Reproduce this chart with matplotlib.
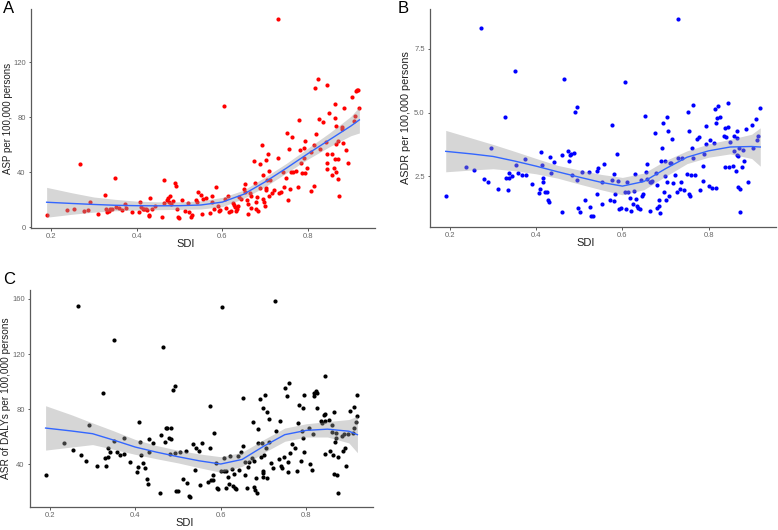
import matplotlib
matplotlib.use("Agg")
import matplotlib.pyplot as plt

plt.rcParams['font.family'] = ['Liberation Sans', 'DejaVu Sans']

# ---- panel A : ASP ----
sdi_a = [0.192, 0.237, 0.255, 0.269, 0.277, 0.286, 0.292, 0.311, 0.326, 0.329, 0.332, 0.335, 0.338,
         0.343, 0.350, 0.351, 0.358, 0.366, 0.373, 0.375, 0.390, 0.406, 0.408, 0.411, 0.414, 0.418,
         0.422, 0.425, 0.428, 0.429, 0.432, 0.435, 0.443, 0.459, 0.464, 0.465, 0.470, 0.473, 0.476,
         0.479, 0.481, 0.485, 0.489, 0.493, 0.495, 0.496, 0.500, 0.506, 0.513, 0.520, 0.523, 0.526,
         0.530, 0.538, 0.540, 0.543, 0.550, 0.552, 0.556, 0.562, 0.571, 0.575, 0.577, 0.580, 0.585,
         0.589, 0.593, 0.595, 0.605, 0.607, 0.609, 0.613, 0.616, 0.620, 0.624, 0.627, 0.629, 0.632,
         0.634, 0.637, 0.640, 0.644, 0.651, 0.652, 0.654, 0.657, 0.659, 0.661, 0.664, 0.667, 0.668,
         0.675, 0.676, 0.678, 0.679, 0.681, 0.684, 0.687, 0.689, 0.692, 0.694, 0.695, 0.697, 0.699,
         0.701, 0.702, 0.703, 0.705, 0.706, 0.709, 0.710, 0.712, 0.715, 0.720, 0.729, 0.729, 0.733,
         0.738, 0.741, 0.743, 0.749, 0.752, 0.753, 0.756, 0.758, 0.760, 0.762, 0.764, 0.771, 0.776,
         0.779, 0.782, 0.784, 0.786, 0.790, 0.791, 0.792, 0.794, 0.798, 0.806, 0.807, 0.813, 0.815,
         0.816, 0.818, 0.824, 0.826, 0.829, 0.836, 0.843, 0.844, 0.844, 0.845, 0.845, 0.850, 0.855,
         0.857, 0.860, 0.863, 0.864, 0.864, 0.865, 0.866, 0.866, 0.869, 0.870, 0.870, 0.872, 0.880,
         0.880, 0.882, 0.884, 0.888, 0.893, 0.902, 0.907, 0.910, 0.911, 0.914, 0.916, 0.918]
asp = [9.0, 12.6, 13.6, 46.1, 11.9, 12.4, 18.4, 9.7, 23.8, 13.1, 11.2, 12.1, 13.1,
       13.6, 35.6, 14.5, 14.1, 12.6, 17.2, 13.8, 11.4, 10.9, 18.2, 15.0, 13.1, 13.3,
       13.6, 12.4, 9.0, 8.2, 21.3, 13.6, 15.3, 7.8, 34.2, 17.7, 19.6, 21.1, 18.4,
       23.0, 17.2, 19.2, 32.2, 30.3, 13.1, 7.3, 6.8, 19.6, 11.6, 17.9, 10.9, 7.3,
       9.0, 19.6, 18.7, 25.9, 23.5, 9.5, 20.4, 21.6, 10.2, 22.5, 18.7, 13.6, 29.6,
       15.5, 11.9, 12.6, 87.8, 20.8, 13.8, 22.8, 11.2, 11.6, 17.9, 16.5, 14.5, 12.1,
       13.6, 15.8, 22.3, 20.4, 27.9, 25.9, 31.5, 19.9, 17.0, 9.7, 24.7, 22.8, 13.8,
       47.8, 32.0, 18.7, 13.3, 22.3, 12.1, 45.8, 28.4, 59.6, 38.3, 20.4, 18.4, 15.8,
       27.2, 49.0, 28.4, 34.4, 53.3, 22.8, 40.7, 34.4, 24.7, 27.2, 50.2, 151.3, 25.2,
       25.7, 40.5, 29.1, 35.6, 68.8, 20.1, 56.7, 28.1, 40.0, 65.9, 40.5, 41.2, 29.6,
       77.6, 55.8, 46.5, 39.5, 57.7, 50.2, 39.5, 63.0, 42.9, 26.2, 55.0, 29.8, 59.4,
       101.0, 67.4, 107.9, 78.5, 57.0, 76.4, 62.3, 103.0, 53.3, 47.0, 42.2, 82.9, 53.3,
       38.1, 42.9, 49.7, 89.2, 79.3, 73.2, 60.6, 40.2, 63.0, 49.9, 34.9, 22.8, 71.5,
       72.5, 61.1, 86.5, 55.8, 47.0, 94.3, 77.3, 81.0, 98.7, 99.4, 99.9, 86.5]

# ---- panel B : ASDR ----
sdi_b = [0.190, 0.238, 0.256, 0.271, 0.278, 0.288, 0.294, 0.312, 0.328, 0.331, 0.334, 0.336, 0.338,
         0.343, 0.351, 0.353, 0.358, 0.367, 0.374, 0.376, 0.390, 0.406, 0.409, 0.411, 0.414, 0.415,
         0.416, 0.420, 0.425, 0.428, 0.429, 0.431, 0.435, 0.442, 0.459, 0.461, 0.465, 0.473, 0.476,
         0.478, 0.480, 0.484, 0.487, 0.490, 0.494, 0.495, 0.496, 0.501, 0.506, 0.514, 0.522, 0.524,
         0.526, 0.531, 0.540, 0.541, 0.544, 0.552, 0.553, 0.558, 0.572, 0.575, 0.577, 0.580, 0.581,
         0.584, 0.587, 0.590, 0.593, 0.596, 0.605, 0.606, 0.609, 0.611, 0.614, 0.617, 0.619, 0.624,
         0.626, 0.629, 0.631, 0.634, 0.637, 0.640, 0.643, 0.645, 0.647, 0.653, 0.654, 0.656, 0.658,
         0.663, 0.665, 0.666, 0.669, 0.676, 0.678, 0.680, 0.681, 0.684, 0.686, 0.688, 0.689, 0.691,
         0.694, 0.697, 0.699, 0.700, 0.701, 0.703, 0.704, 0.707, 0.709, 0.710, 0.712, 0.715, 0.718,
         0.722, 0.726, 0.728, 0.730, 0.733, 0.737, 0.739, 0.743, 0.749, 0.752, 0.754, 0.755, 0.757,
         0.759, 0.761, 0.763, 0.764, 0.769, 0.774, 0.778, 0.780, 0.786, 0.787, 0.789, 0.793, 0.795,
         0.802, 0.803, 0.807, 0.813, 0.815, 0.817, 0.818, 0.820, 0.823, 0.826, 0.836, 0.837, 0.839,
         0.841, 0.844, 0.846, 0.847, 0.849, 0.856, 0.858, 0.860, 0.863, 0.865, 0.866, 0.867, 0.868,
         0.869, 0.871, 0.872, 0.874, 0.877, 0.881, 0.883, 0.886, 0.892, 0.900, 0.904, 0.910, 0.913,
         0.915, 0.920]
asdr = [1.74, 2.86, 2.75, 8.29, 2.41, 2.28, 3.63, 2.02, 4.83, 2.43, 1.97, 2.43, 2.64,
        2.51, 6.63, 2.96, 2.62, 2.54, 3.19, 2.55, 2.21, 1.85, 2.00, 3.44, 2.94, 2.42,
        2.30, 1.89, 1.89, 1.59, 1.48, 3.25, 2.62, 3.07, 1.11, 3.35, 6.30, 3.48, 3.09,
        3.32, 3.37, 2.54, 3.41, 5.03, 5.21, 2.37, 1.26, 1.09, 2.68, 1.58, 2.68, 1.32,
        0.94, 0.94, 2.73, 1.80, 2.83, 2.30, 1.42, 2.98, 1.58, 4.52, 2.36, 1.54, 2.60,
        1.81, 3.37, 2.33, 1.21, 1.26, 1.88, 6.18, 1.22, 2.30, 1.88, 1.67, 1.13, 1.41,
        1.94, 2.60, 1.61, 1.35, 1.26, 1.22, 2.37, 1.74, 1.81, 4.87, 2.68, 2.97, 2.40,
        1.13, 2.30, 2.27, 2.33, 4.19, 2.63, 2.16, 1.26, 1.34, 1.59, 1.07, 3.11, 3.61,
        4.58, 1.90, 3.11, 2.50, 1.58, 4.84, 2.30, 4.26, 1.72, 3.02, 3.01, 3.96, 2.24,
        2.57, 1.90, 8.67, 3.22, 2.02, 2.27, 3.22, 1.98, 2.60, 5.03, 4.26, 1.82, 1.74,
        2.57, 3.63, 5.31, 3.22, 2.57, 3.96, 4.04, 1.98, 2.33, 2.89, 3.39, 3.78, 4.47,
        2.11, 3.92, 2.04, 3.79, 5.12, 4.57, 2.04, 4.80, 5.25, 4.82, 4.08, 2.85, 4.40,
        4.04, 4.43, 5.38, 2.86, 3.83, 2.92, 3.48, 4.09, 2.70, 4.02, 4.27, 3.32, 2.07,
        3.28, 3.61, 2.00, 1.11, 2.88, 3.53, 3.12, 4.36, 2.28, 4.50, 3.61, 4.73, 3.93,
        4.10, 5.17]

# ---- panel C : DALYs ----
sdi_c = [0.190, 0.234, 0.253, 0.267, 0.274, 0.284, 0.291, 0.310, 0.325, 0.329, 0.331, 0.335, 0.336,
         0.340, 0.350, 0.350, 0.357, 0.365, 0.373, 0.374, 0.388, 0.404, 0.407, 0.408, 0.412, 0.413,
         0.418, 0.423, 0.427, 0.429, 0.431, 0.433, 0.441, 0.458, 0.461, 0.464, 0.469, 0.472, 0.475,
         0.479, 0.481, 0.483, 0.484, 0.488, 0.492, 0.494, 0.495, 0.500, 0.505, 0.511, 0.518, 0.522,
         0.525, 0.529, 0.536, 0.539, 0.543, 0.549, 0.551, 0.557, 0.571, 0.574, 0.576, 0.578, 0.581,
         0.583, 0.584, 0.588, 0.591, 0.594, 0.601, 0.604, 0.607, 0.608, 0.612, 0.613, 0.617, 0.619,
         0.622, 0.626, 0.629, 0.632, 0.634, 0.636, 0.640, 0.642, 0.647, 0.652, 0.653, 0.656, 0.658,
         0.661, 0.664, 0.666, 0.674, 0.675, 0.678, 0.679, 0.681, 0.683, 0.685, 0.687, 0.688, 0.691,
         0.695, 0.697, 0.698, 0.698, 0.698, 0.700, 0.702, 0.704, 0.706, 0.708, 0.709, 0.712, 0.714,
         0.718, 0.722, 0.726, 0.729, 0.736, 0.739, 0.741, 0.743, 0.747, 0.751, 0.754, 0.757, 0.757,
         0.760, 0.762, 0.767, 0.773, 0.778, 0.781, 0.784, 0.788, 0.790, 0.792, 0.793, 0.795, 0.795,
         0.807, 0.809, 0.813, 0.816, 0.818, 0.819, 0.824, 0.826, 0.826, 0.834, 0.838, 0.842, 0.843,
         0.844, 0.844, 0.845, 0.853, 0.856, 0.860, 0.861, 0.864, 0.866, 0.866, 0.867, 0.869, 0.871,
         0.873, 0.874, 0.875, 0.884, 0.886, 0.888, 0.892, 0.894, 0.898, 0.902, 0.910, 0.912, 0.913,
         0.916, 0.918, 0.919]
daly = [32.1, 55.8, 50.7, 155.0, 46.7, 42.1, 68.4, 38.6, 92.0, 44.5, 39.0, 51.5, 45.2,
        49.0, 130.4, 57.0, 49.0, 46.4, 58.9, 47.6, 41.9, 34.7, 37.9, 70.5, 56.5, 46.9,
        40.7, 37.4, 29.3, 25.7, 58.6, 49.0, 55.3, 19.2, 61.5, 125.4, 56.5, 66.7, 66.7,
        58.9, 47.6, 58.4, 66.0, 93.7, 96.6, 48.4, 20.9, 20.9, 49.0, 29.0, 50.0, 26.4,
        16.8, 16.4, 55.0, 36.2, 51.7, 49.5, 25.2, 55.5, 27.4, 82.0, 51.9, 28.5, 32.1,
        28.5, 62.9, 40.7, 22.8, 22.1, 35.2, 153.8, 35.2, 44.5, 35.2, 22.8, 30.5, 25.4,
        46.2, 36.9, 24.5, 33.1, 23.0, 22.1, 45.7, 35.9, 48.8, 88.2, 53.6, 32.4, 41.4,
        22.6, 38.1, 41.4, 44.8, 70.5, 23.8, 42.4, 21.4, 29.7, 19.2, 65.3, 55.5, 87.5,
        45.5, 55.8, 35.0, 33.6, 30.5, 80.6, 46.7, 90.6, 51.9, 78.2, 30.2, 56.0, 73.2,
        40.7, 37.1, 158.6, 64.1, 44.0, 71.7, 38.6, 37.1, 45.3, 95.1, 89.4, 41.7, 34.5,
        98.9, 47.9, 54.6, 51.9, 35.2, 70.1, 83.0, 42.6, 64.1, 80.8, 59.1, 49.0, 90.6,
        66.7, 40.5, 35.7, 62.2, 89.6, 92.0, 93.0, 81.0, 91.8, 71.3, 70.3, 75.8, 47.6,
        71.5, 104.4, 76.5, 72.2, 49.5, 63.4, 68.2, 46.9, 77.7, 33.3, 56.5, 59.1, 62.7,
        32.1, 19.0, 45.5, 60.8, 50.0, 61.7, 51.7, 38.8, 62.0, 78.9, 62.7, 66.5, 81.5,
        70.5, 90.4, 75.0]

# ---- loess fits ----
fit_x = [0.19, 0.25, 0.30, 0.35, 0.40, 0.45, 0.50, 0.55, 0.60, 0.65, 0.70, 0.75, 0.80, 0.85, 0.90, 0.92]
fit_a = [18.2, 17.3, 16.6, 16.0, 15.7, 15.6, 15.7, 16.2, 18.3, 24.0, 33.0, 43.0, 53.5, 63.5, 73.5, 78.0]
lo_a = [7.3, 9.5, 11.0, 12.0, 12.5, 12.8, 13.0, 13.3, 15.0, 21.0, 29.5, 39.5, 49.5, 58.5, 66.5, 68.5]
hi_a = [29.0, 25.0, 22.0, 20.3, 19.0, 18.5, 18.5, 19.2, 21.7, 27.0, 36.5, 46.5, 57.5, 68.5, 80.5, 87.5]
fit_b = [3.48, 3.38, 3.28, 3.10, 2.90, 2.68, 2.47, 2.27, 2.12, 2.30, 2.80, 3.25, 3.50, 3.65, 3.67, 3.65]
lo_b = [2.68, 2.75, 2.80, 2.72, 2.60, 2.43, 2.20, 1.98, 1.78, 1.98, 2.50, 3.00, 3.25, 3.38, 3.20, 2.90]
hi_b = [4.30, 4.00, 3.75, 3.48, 3.20, 2.93, 2.75, 2.58, 2.46, 2.63, 3.12, 3.50, 3.77, 3.95, 4.15, 4.40]
fit_c = [66.3, 64.2, 62.2, 57.5, 52.5, 48.8, 45.5, 42.5, 40.2, 43.5, 53.0, 61.5, 64.6, 65.5, 64.0, 61.5]
lo_c = [50.3, 52.5, 54.3, 50.8, 47.2, 44.0, 41.0, 37.5, 34.2, 38.5, 48.3, 56.7, 59.8, 59.8, 55.5, 48.4]
hi_c = [82.5, 76.0, 70.0, 64.2, 58.0, 53.6, 50.2, 47.5, 45.5, 48.7, 57.8, 66.3, 69.4, 71.0, 72.5, 75.0]

W, H = 778, 530
fig = plt.figure(figsize=(W / 100, H / 100), dpi=100)


def panel(l, t, r, b):
    return fig.add_axes([l / W, 1 - b / H, (r - l) / W, (b - t) / H])


def style(ax, ylabel, yticks, yticklabels, ylim, ylab_x, ylab_size):
    ax.set_xlim(0.1535, 0.9565)
    ax.set_ylim(*ylim)
    ax.set_xticks([0.2, 0.4, 0.6, 0.8])
    ax.set_xticklabels(['0.2', '0.4', '0.6', '0.8'])
    ax.set_yticks(yticks)
    ax.set_yticklabels(yticklabels)
    for s in ['top', 'right']:
        ax.spines[s].set_visible(False)
    for s in ['left', 'bottom']:
        ax.spines[s].set_color('#5a5a5a')
        ax.spines[s].set_linewidth(0.9)
    ax.tick_params(length=1.8, width=0.7, color='#5a5a5a', labelsize=5.5,
                   labelcolor='#666666', pad=2)
    ax.set_xlabel('SDI', fontsize=8, color='#222222')
    ax.set_ylabel(ylabel, fontsize=ylab_size, color='#222222')
    ax.xaxis.set_label_coords(0.45, -0.05)
    ax.yaxis.set_label_coords(ylab_x, 0.5)


axes = [panel(31, 9, 375, 228), panel(430, 9, 776, 227), panel(30, 290, 373, 507)]
data = [(sdi_a, asp, 'red', fit_a, lo_a, hi_a),
        (sdi_b, asdr, 'blue', fit_b, lo_b, hi_b),
        (sdi_c, daly, 'black', fit_c, lo_c, hi_c)]

for ax, (x, y, col, f, lo, hi) in zip(axes, data):
    ax.scatter(x, y, s=9, color=col, linewidths=0, zorder=2)
    ax.fill_between(fit_x, lo, hi, color='#999999', alpha=0.4, linewidth=0, zorder=3)
    ax.plot(fit_x, f, color='#3366FF', lw=1.0, zorder=4)

style(axes[0], 'ASP per 100,000 persons', [0, 40, 80, 120], ['0', '40', '80', '120'],
      (-0.5, 158.5), -0.052, 7.0)
style(axes[1], 'ASDR per 100,000 persons', [2.5, 5.0, 7.5], ['2.5', '5.0', '7.5'],
      (0.52, 9.05), -0.055, 7.8)
style(axes[2], 'ASR of DALYs per 100,000 persons', [40, 80, 120, 160], ['40', '80', '120', '160'],
      (9.0, 166.5), -0.055, 7.3)

fig.text(3 / W, 1 - 1 / H, 'A', fontsize=12, va='top', ha='left')
fig.text(398 / W, 1 - 1 / H, 'B', fontsize=12, va='top', ha='left')
fig.text(3 / W, 1 - 272 / H, 'C', fontsize=12, va='top', ha='left')

fig.savefig('out.png', dpi=100)
